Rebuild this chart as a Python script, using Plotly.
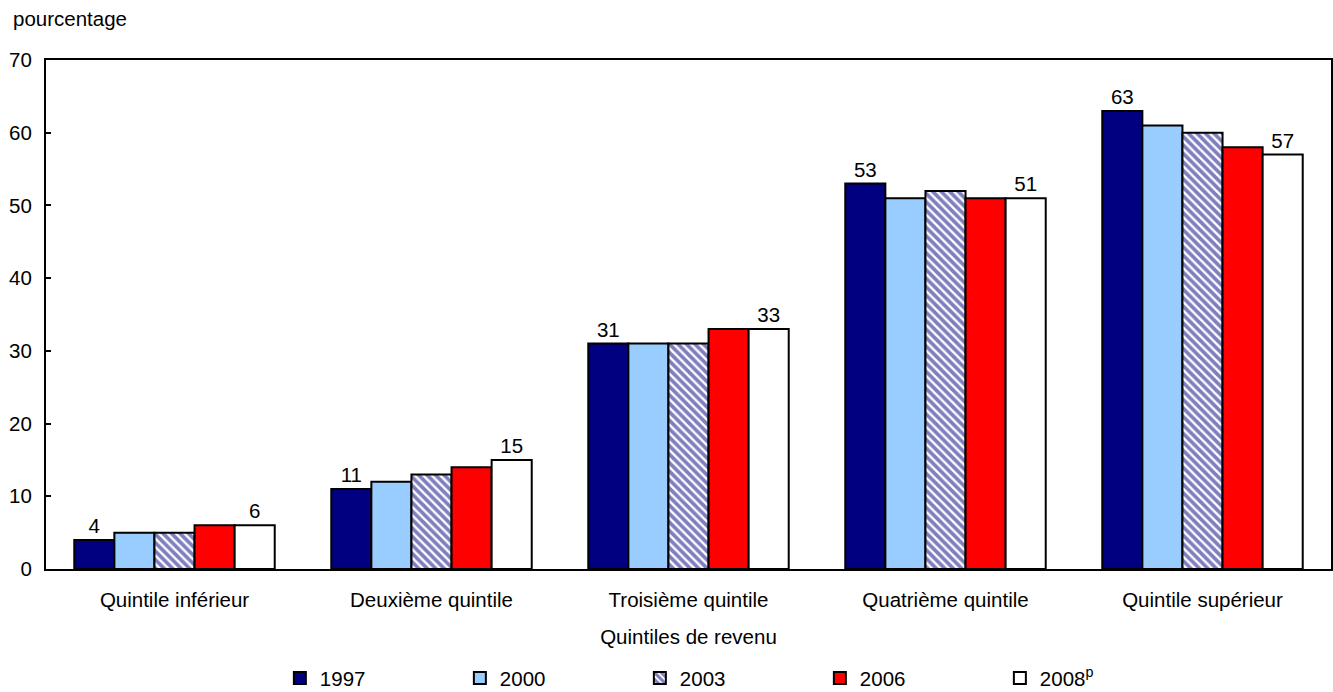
import plotly.graph_objects as go

categories = ["Quintile inférieur", "Deuxième quintile", "Troisième quintile",
              "Quatrième quintile", "Quintile supérieur"]
years = ["1997", "2000", "2003", "2006", "2008<sup>p</sup>"]
v1997 = [4, 11, 31, 53, 63]
v2000 = [5, 12, 31, 51, 61]
v2003 = [5, 13, 31, 52, 60]
v2006 = [6, 14, 33, 51, 58]
v2008 = [6, 15, 33, 51, 57]
series = [v1997, v2000, v2003, v2006, v2008]
colors = ["#000080", "#99CCFF", "#FFFFFF", "#FF0000", "#FFFFFF"]
show_labels = [True, False, False, False, True]

FONT = "Liberation Sans"
FS = 20.5

fig = go.Figure()
for i, (name, vals) in enumerate(zip(years, series)):
    marker = dict(color=colors[i], line=dict(color="black", width=2))
    if i == 2:
        marker["pattern"] = dict(shape="\\", fgcolor="#000080", bgcolor="white",
                                 size=6, solidity=0.62)
    kw = {}
    if show_labels[i]:
        kw = dict(text=[str(v) for v in vals], textposition="outside",
                  textfont=dict(family=FONT, size=FS, color="black"))
    fig.add_trace(go.Bar(name=name, x=categories, y=vals, marker=marker,
                         cliponaxis=False, **kw))

fig.update_layout(
    width=1333, height=692,
    margin=dict(l=46, r=2, t=60, b=123, autoexpand=False),
    paper_bgcolor="white", plot_bgcolor="white",
    barmode="group", bargap=0.22, bargroupgap=0,
    font=dict(family=FONT, size=FS, color="black"),
    showlegend=True,
    legend=dict(orientation="h", x=0.182, xanchor="left",
                yref="container", y=0.02, yanchor="middle",
                entrywidth=135, entrywidthmode="pixels", itemwidth=30,
                font=dict(family=FONT, size=FS), itemclick=False),
    xaxis=dict(showline=True, linecolor="black", linewidth=2, mirror=True,
               ticks="", ticklabelstandoff=11, automargin=False,
               title=dict(text="Quintiles de revenu", standoff=20,
                          font=dict(family=FONT, size=FS))),
    yaxis=dict(range=[0, 70], dtick=10, showline=True, linecolor="black",
               linewidth=2, mirror=True, ticks="inside", ticklen=5,
               tickcolor="black", tickwidth=2, showgrid=False, zeroline=False,
               ticklabelstandoff=8, automargin=False),
    annotations=[dict(text="pourcentage", xref="paper", yref="paper",
                      x=-0.027, y=1.0, yshift=42, xanchor="left", yanchor="middle",
                      showarrow=False, font=dict(family=FONT, size=FS))],
)

fig.write_html("out.html", config={"displayModeBar": False},
               post_script="document.body.style.margin='0';"
                           "document.body.style.overflow='hidden';")
